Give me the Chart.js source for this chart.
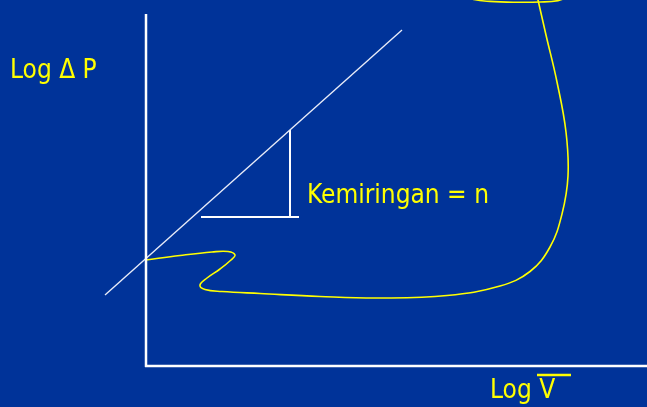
<!DOCTYPE html>
<html>
<head>
<meta charset="utf-8">
<script src="https://cdn.jsdelivr.net/npm/chart.js@4"></script>
<style>
  html, body { margin: 0; padding: 0; background: #003399; overflow: hidden; }
  #wrap { width: 647px; height: 407px; }
</style>
</head>
<body>
<div id="wrap"><canvas id="myChart" width="647" height="407"></canvas></div>
<script>
// diagram units: x to the right, y downwards (0..647 x 0..407)
const sumbuY = [[146, 14], [146, 367]];
const sumbuX = [[145, 366], [647, 366]];
const garisLog = [[105, 295], [402, 30]];
const segitigaDatar = [[201, 217], [299, 217]];
const segitigaTegak = [[290, 217], [290, 130]];
const kurva = [
  [146, 260], [180, 255.5], [212, 252], [228, 251.5], [235, 255], [231, 260],
  [220, 269], [207, 278], [200, 285], [205, 289.5], [222, 291.5], [260, 293.5],
  [320, 296.5], [380, 298], [447, 295.5], [500, 286], [530, 271.5], [550, 247],
  [562, 214], [568, 176], [566, 132], [557, 82], [546, 35], [538, 0], [536, -8]
];
const elips = [[464, -5], [474, -0.5], [490, 1.4], [515, 2.2], [540, 2], [558, 0.6], [570, -4]];

const labels = [
  { teks: 'Log \u0394 P', x: 10, y: 78 },
  { teks: 'Kemiringan = n', x: 307, y: 203 },
  { teks: 'Log V', x: 490, y: 398, garisAtas: [537, 571, 375] }
];

const toPts = arr => arr.map(p => ({ x: p[0], y: p[1] }));

function garis(data, warna, tebal, tension) {
  return {
    data: toPts(data),
    showLine: true,
    borderColor: warna,
    borderWidth: tebal,
    pointRadius: 0,
    tension: tension || 0,
    borderCapStyle: 'butt'
  };
}

const teksPlugin = {
  id: 'teks',
  afterDatasetsDraw(chart) {
    const ctx = chart.ctx;
    const sx = chart.scales.x, sy = chart.scales.y;
    ctx.save();
    ctx.fillStyle = '#ffff00';
    ctx.strokeStyle = '#ffff00';
    ctx.font = '26px "DejaVu Sans Condensed", "DejaVu Sans", sans-serif';
    ctx.textBaseline = 'alphabetic';
    labels.forEach(l => {
      ctx.fillText(l.teks, sx.getPixelForValue(l.x), sy.getPixelForValue(l.y));
      if (l.garisAtas) {
        const g = l.garisAtas;
        ctx.lineWidth = 2.5;
        ctx.beginPath();
        ctx.moveTo(sx.getPixelForValue(g[0]), sy.getPixelForValue(g[2]));
        ctx.lineTo(sx.getPixelForValue(g[1]), sy.getPixelForValue(g[2]));
        ctx.stroke();
      }
    });
    ctx.restore();
  }
};

const ctx = document.getElementById('myChart');
new Chart(ctx, {
  type: 'scatter',
  data: {
    datasets: [
      garis(sumbuY, '#ffffff', 2.5),
      garis(sumbuX, '#ffffff', 2.5),
      garis(garisLog, '#e8ecf8', 1.4),
      garis(segitigaDatar, '#ffffff', 2),
      garis(segitigaTegak, '#ffffff', 2),
      garis(kurva, '#ffff00', 1.6, 0.4),
      garis(elips, '#ffff00', 1.6, 0.4)
    ]
  },
  options: {
    responsive: false,
    animation: false,
    devicePixelRatio: 1,
    layout: { padding: 0 },
    plugins: { legend: { display: false }, tooltip: { enabled: false } },
    scales: {
      x: { type: 'linear', min: 0, max: 647, display: false },
      y: { type: 'linear', min: 0, max: 407, reverse: true, display: false }
    }
  },
  plugins: [teksPlugin]
});
</script>
</body>
</html>
